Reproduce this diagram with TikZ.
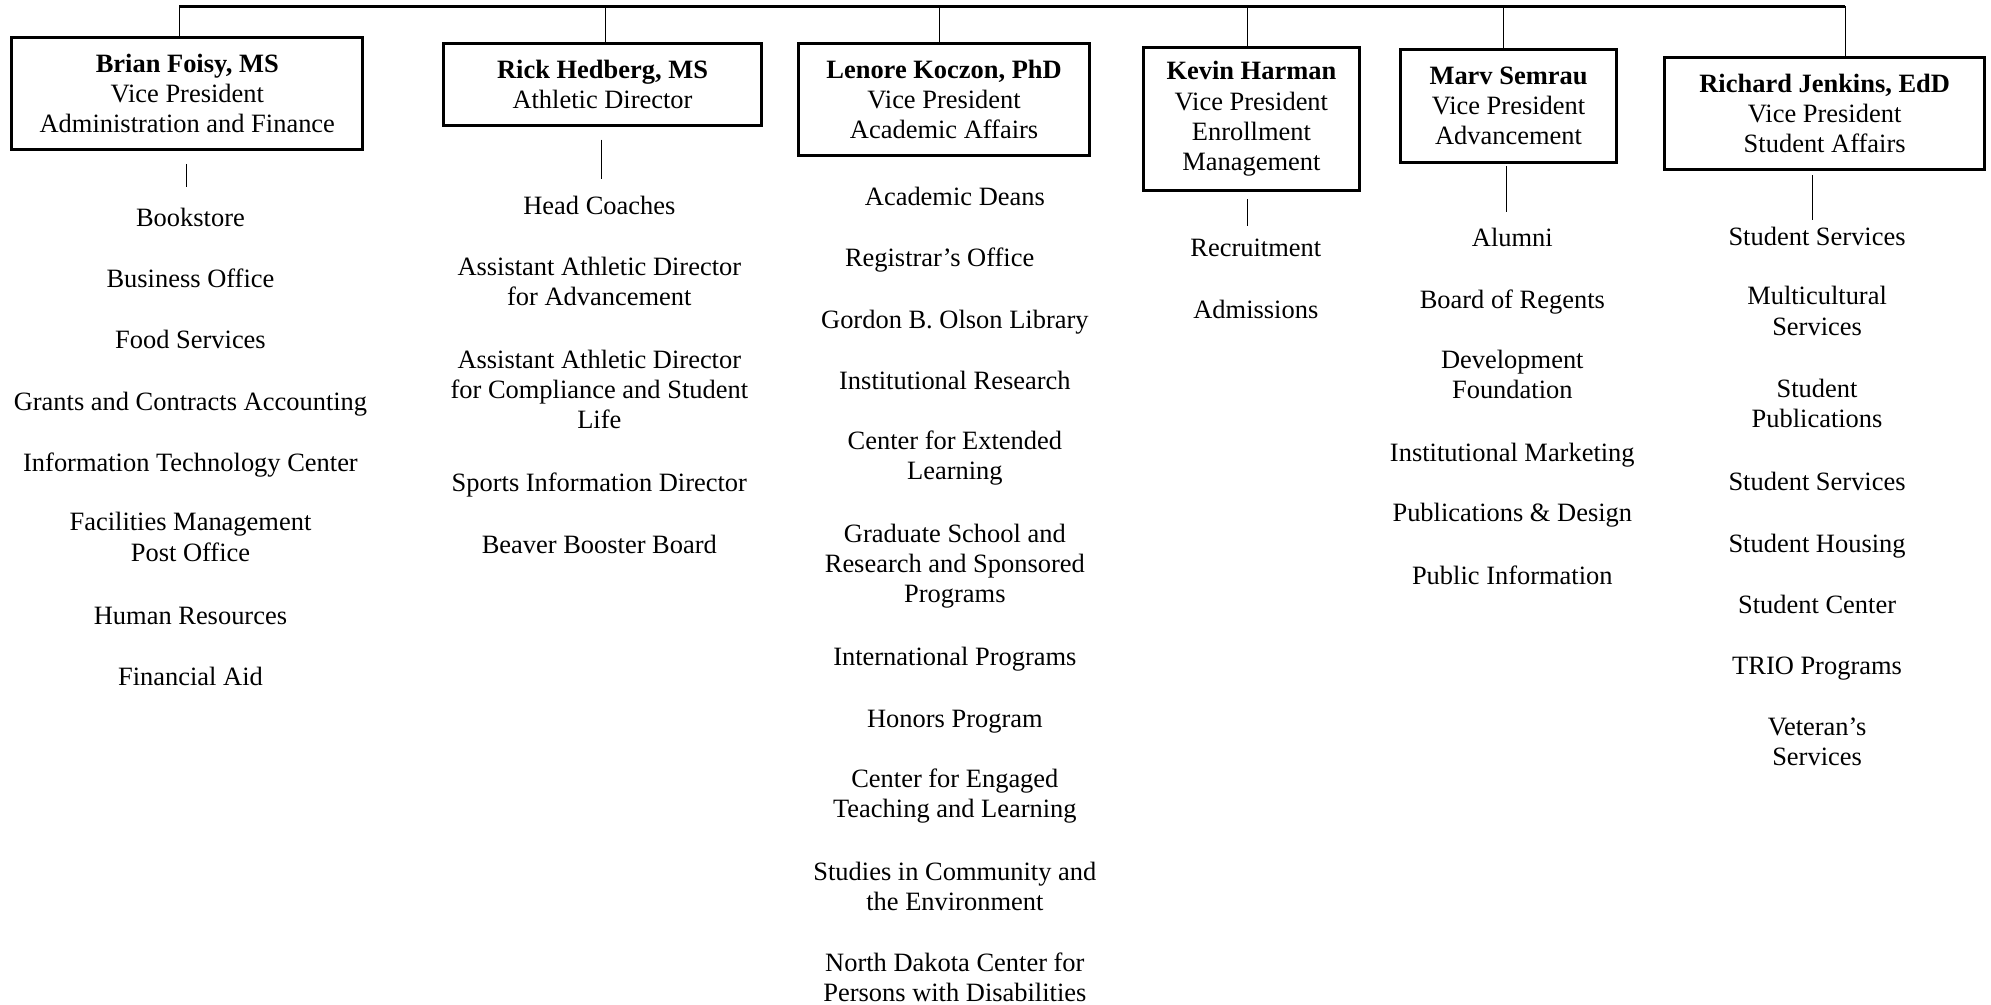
\documentclass[tikz,border=0pt]{standalone}
\usepackage{fontspec}
\setmainfont{Liberation Serif}
\usetikzlibrary{positioning}
\tikzset{vp node/.style={draw,line width=1.4pt,align=center,inner sep=0pt},
  unit node/.style={align=center,inner sep=0pt,yshift=-2pt,
    execute at begin node=\strut,execute at end node=\strut}}

\begin{document}
\begin{tikzpicture}[x=0.6pt,y=-0.6pt,font=\fontsize{12.5}{14.2}\selectfont]
    \useasboundingbox (0,0) rectangle (1568,791);

    % vice presidents
    \foreach \x/\y/\w/\h/\n/\t in {
        147.5/73.5/279/91/1/{\textbf{Brian Foisy, MS}\\Vice President\\Administration and Finance},
        474.5/66.5/253/67/2/{\textbf{Rick Hedberg, MS}\\Athletic Director},
        743.5/78.5/231/91/3/{\textbf{Lenore Koczon, PhD}\\Vice President\\Academic Affairs},
        985.5/93.5/173/115/4/{\textbf{Kevin Harman}\\Vice President\\Enrollment\\Management},
        1188/83.5/172/91/5/{\textbf{Marv Semrau}\\Vice President\\Advancement},
        1437/89.5/254/91/6/{\textbf{Richard Jenkins, EdD}\\Vice President\\Student Affairs}}{
        \node[vp node,minimum width=\w*0.6pt-1.4pt,minimum height=\h*0.6pt-1.4pt] (vp\n) at (\x,\y) {\t};
    }

    % top line and drops
    \foreach \x/\n in {141/1,477/2,740/3,982/4,1184/5,1453/6}{
        \coordinate (t\n) at (\x,5);
        \draw (t\n) -- (t\n |- vp\n.north);
    }
    \draw[line width=1.4pt] (t1) -- (t6);

    % short lines below the boxes
    \foreach \x/\a/\b/\n in {147/129/147/1,474/110/141/2,982/157/178/4,1186/131/167/5,1427/138/173/6}{
        \coordinate (u\n) at (\x,\a);
        \coordinate (v\n) at (\x,\b);
        \draw (u\n) -- (v\n);
    }

    % units
    \foreach \y/\t [count=\i] in {170/Bookstore,218/Business Office,266/Food Services,
        315/Grants and Contracts Accounting,363/Information Technology Center,
        423/{Facilities Management\\Post Office},484/Human Resources,532/Financial Aid}{
        \node[unit node] (a\i) at (150,\y) {\t};
    }
    \foreach \y/\t [count=\i] in {161/Head Coaches,
        222/{Assistant Athletic Director\\for Advancement},
        307/{Assistant Athletic Director\\for Compliance and Student\\Life},
        379/Sports Information Director,428/Beaver Booster Board}{
        \node[unit node] (b\i) at (472,\y) {\t};
    }
    \foreach \x/\y/\t [count=\i] in {752/154/Academic Deans,740/202/Registrar’s Office,
        752/251/Gordon B. Olson Library,752/299/Institutional Research,
        752/359/{Center for Extended\\Learning},
        752/444/{Graduate School and\\Research and Sponsored\\Programs},
        752/516/International Programs,752/565/Honors Program,
        752/625/{Center for Engaged\\Teaching and Learning},
        752/698/{Studies in Community and\\the Environment},
        752/770/{North Dakota Center for\\Persons with Disabilities}}{
        \node[unit node] (c\i) at (\x,\y) {\t};
    }
    \foreach \y/\t [count=\i] in {194/Recruitment,243/Admissions}{
        \node[unit node] (d\i) at (989,\y) {\t};
    }
    \foreach \y/\t [count=\i] in {186/Alumni,235/Board of Regents,
        295/{Development\\Foundation},355/Institutional Marketing,
        403/Publications \& Design,452/Public Information}{
        \node[unit node] (e\i) at (1191,\y) {\t};
    }
    \foreach \y/\t [count=\i] in {185/Student Services,245/{Multicultural\\Services},
        318/{Student\\Publications},378/Student Services,427/Student Housing,
        475/Student Center,523/TRIO Programs,584/{Veteran’s\\Services}}{
        \node[unit node] (f\i) at (1431,\y) {\t};
    }
\end{tikzpicture}
\end{document}
